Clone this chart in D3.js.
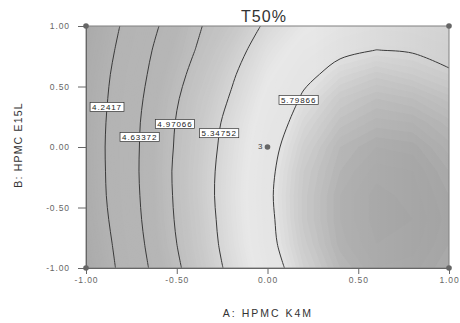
<!DOCTYPE html>
<html>
<head>
<meta charset="utf-8">
<script src="https://cdn.jsdelivr.net/npm/d3@7"></script>
<style>
  body { margin: 0; background: #fff; }
  svg { display: block; font-family: 'Liberation Sans', Arial, sans-serif; }
</style>
</head>
<body>
<svg id="chart" width="460" height="323"></svg>
<script>
// coded levels of the grid: A across, B from +1 (top row) down to -1
const aLevels = [-1, -0.8, -0.6, -0.4, -0.2, 0, 0.2, 0.4, 0.6, 0.8, 1];
const bLevels = [1, 0.8, 0.6, 0.4, 0.2, 0, -0.2, -0.4, -0.6, -0.8, -1];

// T50%, one row per B level
const t50Rows = [
  [3.86, 4.27, 4.63, 4.93, 5.13, 5.40, 5.58, 5.67, 5.71, 5.69, 5.64],
  [3.91, 4.33, 4.70, 4.97, 5.23, 5.50, 5.68, 5.77, 5.80, 5.79, 5.74],
  [3.96, 4.38, 4.75, 5.04, 5.31, 5.58, 5.76, 5.85, 5.89, 5.86, 5.82],
  [3.99, 4.41, 4.80, 5.10, 5.37, 5.65, 5.82, 5.92, 5.96, 5.94, 5.89],
  [4.00, 4.44, 4.83, 5.14, 5.43, 5.70, 5.87, 5.97, 6.01, 6.00, 5.95],
  [4.01, 4.45, 4.84, 5.16, 5.46, 5.74, 5.91, 6.02, 6.06, 6.05, 5.99],
  [4.00, 4.45, 4.85, 5.18, 5.48, 5.76, 5.94, 6.04, 6.09, 6.08, 6.02],
  [3.99, 4.44, 4.84, 5.18, 5.49, 5.77, 5.95, 6.06, 6.11, 6.09, 6.04],
  [3.96, 4.41, 4.83, 5.16, 5.48, 5.76, 5.95, 6.06, 6.11, 6.10, 6.05],
  [3.91, 4.37, 4.80, 5.14, 5.46, 5.75, 5.93, 6.05, 6.10, 6.09, 6.04],
  [3.86, 4.33, 4.75, 5.10, 5.42, 5.71, 5.90, 6.02, 6.08, 6.07, 6.02],
];

const contourLevels = [4.2417, 4.63372, 4.97066, 5.34752, 5.79866];
const contourLabels = ['4.2417', '4.63372', '4.97066', '5.34752', '5.79866'];

const xTicks = [-1, -0.5, 0, 0.5, 1];
const yTicks = [1, 0.5, 0, -0.5, -1];

// design points (corners + replicated centre)
const designA = [-1, 1, -1, 1, 0];
const designB = [1, 1, -1, -1, 0];
const designRuns = [1, 1, 1, 1, 3];

// where each contour label sits (pixel row)
const labelRows = [107, 137, 124, 133, 100];

const svg = d3.select('#chart');
const x = d3.scaleLinear().domain([-1, 1]).range([86, 449]);
const y = d3.scaleLinear().domain([-1, 1]).range([268, 26]);

const nx = aLevels.length;
const ny = bLevels.length;
const values = t50Rows.flat();

// d3.contours puts sample i at grid coordinate i + 0.5
const gx = d3.scaleLinear().domain([0.5, nx - 0.5]).range([x(aLevels[0]), x(aLevels[nx - 1])]);
const gy = d3.scaleLinear().domain([0.5, ny - 0.5]).range([y(bLevels[0]), y(bLevels[ny - 1])]);

const toPx = d3.geoTransform({
  point(px, py) { this.stream.point(gx(px), gy(py)); }
});
const path = d3.geoPath(toPx);

const defs = svg.append('defs');
defs.append('clipPath').attr('id', 'plot-clip')
  .append('rect')
  .attr('x', x(-1)).attr('y', y(1))
  .attr('width', x(1) - x(-1)).attr('height', y(-1) - y(1));

// the scan darkens a little toward the right edge
const shadeGrad = defs.append('linearGradient')
  .attr('id', 'edge-shade')
  .attr('gradientUnits', 'userSpaceOnUse')
  .attr('x1', x(0.25)).attr('x2', x(1)).attr('y1', 0).attr('y2', 0);
shadeGrad.append('stop').attr('offset', 0).attr('stop-color', '#000').attr('stop-opacity', 0);
shadeGrad.append('stop').attr('offset', 1).attr('stop-color', '#000').attr('stop-opacity', 0.09);

// grey shading, lightest around 5.6-5.8
const grey = d3.scaleLinear()
  .domain([3.85, 4.3, 4.8, 5.2, 5.6, 5.8, 5.95, 6.05, 6.12])
  .range([170, 180, 182, 202, 232, 228, 200, 181, 175])
  .clamp(true);

const contourGen = d3.contours().size([nx, ny]);
const bands = contourGen.thresholds(d3.range(3.8, 6.13, 0.02))(values);

const fillG = svg.append('g').attr('clip-path', 'url(#plot-clip)');
fillG.selectAll('path')
  .data(bands)
  .join('path')
  .attr('d', path)
  .attr('fill', d => { const g = Math.round(grey(d.value + 0.01)); return d3.rgb(g, g, g); });

fillG.append('rect')
  .attr('x', x(-1)).attr('y', y(1))
  .attr('width', x(1) - x(-1)).attr('height', y(-1) - y(1))
  .attr('fill', 'url(#edge-shade)');

// contour lines, without the parts that run along the grid border
const onEdge = p => p[0] <= 0 || p[0] >= nx || p[1] <= 0 || p[1] >= ny;

function interiorRuns(ring) {
  const pts = ring.slice(0, -1);
  const start = pts.findIndex(onEdge);
  if (start < 0) return [ring];
  const runs = [];
  let run = [];
  for (let k = 1; k <= pts.length; k++) {
    const p = pts[(start + k) % pts.length];
    if (onEdge(p)) {
      if (run.length > 1) runs.push(run);
      run = [];
    } else {
      run.push(p);
    }
  }
  return runs;
}

const line = d3.line()
  .x(p => gx(p[0]))
  .y(p => gy(p[1]))
  .curve(d3.curveCatmullRom.alpha(0.5));

const lineG = svg.append('g').attr('clip-path', 'url(#plot-clip)');
const labelG = svg.append('g');

contourLevels.forEach((level, i) => {
  const c = contourGen.contour(values, level);
  const nodes = [];
  c.coordinates.forEach(poly => poly.forEach(ring => {
    interiorRuns(ring).forEach(run => {
      const p = lineG.append('path')
        .attr('d', line(run))
        .attr('fill', 'none')
        .attr('stroke', '#3a3a3a')
        .attr('stroke-width', 1);
      nodes.push(p.node());
    });
  }));

  // put the label where the line crosses its row
  let best = null;
  nodes.forEach(node => {
    const len = node.getTotalLength();
    for (let s = 0; s <= len; s += 0.5) {
      const pt = node.getPointAtLength(s);
      const dist = Math.abs(pt.y - labelRows[i]);
      if (!best || dist < best.dist) best = { x: pt.x, y: pt.y, dist };
    }
  });
  if (!best) return;

  const g = labelG.append('g').attr('transform', `translate(${best.x},${best.y})`);
  const rect = g.append('rect');
  const text = g.append('text')
    .attr('text-anchor', 'middle')
    .attr('dy', '0.35em')
    .attr('font-size', 8)
    .attr('letter-spacing', 0.9)
    .attr('fill', '#222')
    .text(contourLabels[i]);
  const w = text.node().getComputedTextLength() + 4;
  rect.attr('x', -w / 2).attr('y', -4.5)
    .attr('width', w).attr('height', 9)
    .attr('fill', '#fff')
    .attr('stroke', '#333')
    .attr('stroke-width', 0.7);
});

// frame
svg.append('rect')
  .attr('x', x(-1)).attr('y', y(1))
  .attr('width', x(1) - x(-1)).attr('height', y(-1) - y(1))
  .attr('fill', 'none')
  .attr('stroke', '#808080')
  .attr('stroke-width', 1);

const fmt = d => d.toFixed(2);

const xAxis = svg.append('g')
  .attr('transform', `translate(0,${y(-1)})`)
  .call(d3.axisBottom(x).tickValues(xTicks).tickFormat(fmt).tickSize(6).tickSizeOuter(0).tickPadding(3));

const yAxis = svg.append('g')
  .attr('transform', `translate(${x(-1)},0)`)
  .call(d3.axisLeft(y).tickValues(yTicks).tickFormat(fmt).tickSize(8).tickSizeOuter(0).tickPadding(8));

[xAxis, yAxis].forEach(ax => {
  ax.select('.domain').attr('stroke', '#666');
  ax.selectAll('.tick line').attr('stroke', '#666');
  ax.selectAll('.tick text')
    .attr('fill', '#666')
    .attr('font-size', 8.5)
    .attr('letter-spacing', 0.9)
    .attr('font-family', "'Liberation Sans', Arial, sans-serif");
});

// design points
const pts = svg.append('g');
designA.forEach((a, i) => {
  pts.append('circle')
    .attr('cx', x(a)).attr('cy', y(designB[i]))
    .attr('r', 2.8)
    .attr('fill', '#666');
  if (designRuns[i] > 1) {
    pts.append('text')
      .attr('x', x(a) - 5).attr('y', y(designB[i]))
      .attr('dy', '0.3em')
      .attr('text-anchor', 'end')
      .attr('font-size', 8)
      .attr('fill', '#444')
      .text(designRuns[i]);
  }
});

// titles
svg.append('text')
  .attr('x', 264).attr('y', 22)
  .attr('text-anchor', 'middle')
  .attr('font-size', 16)
  .attr('letter-spacing', 1)
  .attr('fill', '#333')
  .text('T50%');

svg.append('text')
  .attr('x', 268).attr('y', 317)
  .attr('text-anchor', 'middle')
  .attr('font-size', 10.5)
  .attr('letter-spacing', 2)
  .attr('fill', '#333')
  .text('A: HPMC K4M');

svg.append('text')
  .attr('transform', 'translate(22,145) rotate(-90)')
  .attr('text-anchor', 'middle')
  .attr('font-size', 10.5)
  .attr('letter-spacing', 1.2)
  .attr('fill', '#333')
  .text('B: HPMC E15L');
</script>
</body>
</html>
